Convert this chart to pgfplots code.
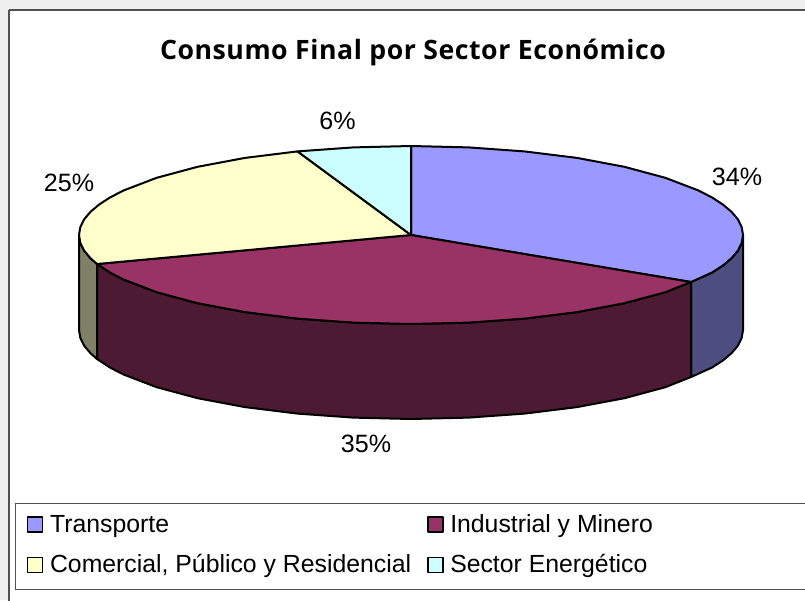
\documentclass[border=0pt]{standalone}
\usepackage{fontspec}
\setmainfont{Liberation Sans}
\newfontfamily\titlefont[LetterSpace=2]{Open Sans}
\usepackage{pgfplots}
\pgfplotsset{compat=1.18}
\definecolor{bgout}{HTML}{F0F0F0}
\definecolor{frameg}{HTML}{505050}
\definecolor{blueT}{HTML}{9999FF}
\definecolor{blueS}{HTML}{4D4D80}
\definecolor{marT}{HTML}{993366}
\definecolor{marS}{HTML}{4D1A33}
\definecolor{yelT}{HTML}{FFFFCC}
\definecolor{yelS}{HTML}{808066}
\definecolor{cyaT}{HTML}{CCFFFF}
% percent labels, pixel positions of the reference
\pgfplotstableread{
x y lab
737 176.5 34\%
366 444 35\%
69 183 25\%
337.5 121 6\%
}\pctlabels
\begin{document}
\begin{tikzpicture}
\begin{axis}[
    scale only axis,
    width=603.75pt, height=450pt,
    xmin=0, xmax=805, ymin=0, ymax=600,
    y dir=reverse,
    axis lines=none,
    ticks=none,
    legend columns=2,
    legend cell align=left,
    legend image code/.code={\draw[#1,line width=1.1pt] (0pt,-5.6pt) rectangle (11.2pt,5.6pt);},
    legend style={draw=none, fill=none, at={(axis cs:27,512)}, anchor=north west,
        font=\fontsize{18.6}{22}\selectfont, inner sep=0pt, outer sep=0pt,
        row sep=11pt,
        /tikz/every odd column/.append style={column sep=3pt},
        /tikz/every even column/.append style={column sep=10pt}},
    slice/.style={draw=black, line width=1.5pt, line join=round},
]
% page background, chart frame, legend frame
\addplot[forget plot, draw=none, fill=bgout] coordinates {(0,0) (805,0) (805,600) (0,600) (0,0)};
\addplot[forget plot, draw=frameg, line width=1.2pt, fill=white] coordinates {(9,10) (815,10) (815,610) (9,610) (9,10)};
\addplot[forget plot, draw=frameg, line width=0.7pt, fill=white] coordinates {(15.5,503) (815,503) (815,589) (15.5,589) (15.5,503)};
% walls
\addplot[forget plot, slice, fill=blueS] coordinates {(743,235) (741.7,242.8) (738,250.5) (731.7,258) (723,265.4) (711.9,272.6) (691,282)
    (691,377) (711.9,367.6) (723,360.4) (731.7,353) (738,345.5) (741.7,337.8) (743,330) (743,235)};
\addplot[forget plot, slice, fill=marS] coordinates {(691,282) (665.3,292.2) (624.4,303.2) (577,312.1) (524.5,318.6) (468.7,322.6) (411,324)
    (353.3,322.6) (297.5,318.6) (245,312.1) (197.6,303.2) (156.7,292.2) (123.5,279.5) (110.1,272.6) (97,264)
    (97,359) (110.1,367.6) (123.5,374.5) (156.7,387.2) (197.6,398.2) (245,407.1) (297.5,413.6) (353.3,417.6) (411,419)
    (468.7,417.6) (524.5,413.6) (577,407.1) (624.4,398.2) (665.3,387.2) (691,377) (691,282)};
\addplot[forget plot, slice, fill=yelS] coordinates {(97,264) (90.3,258) (84,250.5) (80.3,242.8) (79,235)
    (79,330) (80.3,337.8) (84,345.5) (90.3,353) (97,359) (97,264)};
% top faces
\addplot[slice, fill=blueT] coordinates {(411,235) (411,146) (468.7,147.4) (524.5,151.4) (577,157.9) (624.4,166.8) (665.3,177.8) (698.5,190.5)
    (711.9,197.4) (723,204.6) (731.7,212) (738,219.5) (741.7,227.2) (743,235) (741.7,242.8) (738,250.5) (731.7,258) (723,265.4) (711.9,272.6) (691,282) (411,235)};
\addlegendentry{Transporte}
\addplot[slice, fill=marT] coordinates {(411,235) (691,282) (665.3,292.2) (624.4,303.2) (577,312.1) (524.5,318.6) (468.7,322.6) (411,324)
    (353.3,322.6) (297.5,318.6) (245,312.1) (197.6,303.2) (156.7,292.2) (123.5,279.5) (110.1,272.6) (97,264) (411,235)};
\addlegendentry{Industrial y Minero}
\addplot[slice, fill=yelT] coordinates {(411,235) (97,264) (90.3,258) (84,250.5) (80.3,242.8) (79,235) (80.3,227.2) (84,219.5) (90.3,212) (99,204.6)
    (110.1,197.4) (123.5,190.5) (156.7,177.8) (197.6,166.8) (245,157.9) (297.5,151.4) (411,235)};
\addlegendentry{Comercial, Público y Residencial}
\addplot[slice, fill=cyaT] coordinates {(411,235) (297.5,151.4) (353.3,147.4) (411,146) (411,235)};
\addlegendentry{Sector Energético}
% data labels
\addplot[forget plot, draw=none, mark=none,
    nodes near coords, point meta=explicit symbolic,
    every node near coord/.append style={anchor=center, inner sep=0pt, font=\fontsize{18.8}{22}\selectfont}]
    table[x=x, y=y, meta=lab] {\pctlabels};
% title
\node[font=\titlefont\bfseries\fontsize{20}{23}\selectfont, anchor=center] at (axis cs:413,52) {Consumo Final por Sector Económico};
\end{axis}
\end{tikzpicture}
\end{document}
